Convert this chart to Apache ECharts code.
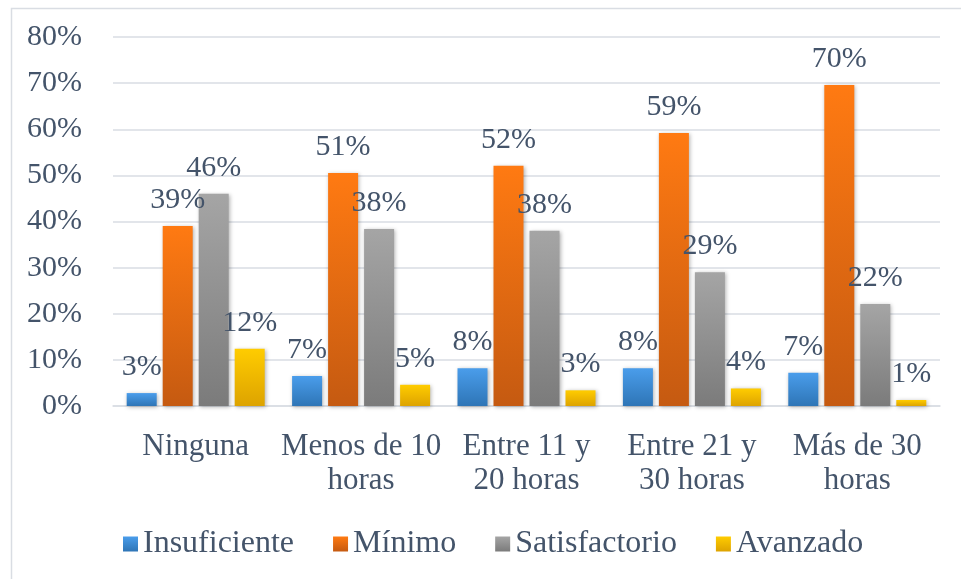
<!DOCTYPE html>
<html>
<head>
<meta charset="utf-8">
<script src="https://cdn.jsdelivr.net/npm/echarts@6/dist/echarts.min.js"></script>
<style>
html,body{margin:0;padding:0;background:#fff;}
#c{width:961px;height:579px;}
</style>
</head>
<body>
<div id="c"></div>
<script>
var categories = ['Ninguna', 'Menos de 10\nhoras', 'Entre 11 y\n20 horas', 'Entre 21 y\n30 horas', 'Más de 30\nhoras'];
var insuficiente = [2.8, 6.5, 8.2, 8.2, 7.2];
var minimo = [39.0, 50.5, 52.1, 59.2, 69.6];
var satisfactorio = [46.0, 38.4, 38.0, 29.0, 22.1];
var avanzado = [12.4, 4.6, 3.4, 3.8, 1.3];
var seriesNames = ['Insuficiente', 'Mínimo', 'Satisfactorio', 'Avanzado'];

var FONT = '"Liberation Serif", "Times New Roman", serif';
var TXT = '#44546A';

function grad(top, bottom) {
  return new echarts.graphic.LinearGradient(0, 0, 0, 1, [
    {offset: 0, color: top}, {offset: 1, color: bottom}
  ]);
}
var fills = [
  grad('#4A9DEB', '#2E75B6'),
  grad('#FF7A12', '#C55A11'),
  grad('#A5A5A5', '#7B7B7B'),
  grad('#FFCC00', '#DDA300')
];
var allData = [insuficiente, minimo, satisfactorio, avanzado];

var chart = echarts.init(document.getElementById('c'));
chart.setOption({
  animation: false,
  textStyle: {fontFamily: FONT},
  graphic: [{
    type: 'rect', left: 9, top: 6, silent: true,
    shape: {x: 0, y: 0, width: 960, height: 580},
    style: {fill: 'none', stroke: '#D9DDE3', lineWidth: 1.5},
    z: -1
  }],
  grid: {left: 113, right: 21, top: 37, bottom: 173},
  legend: {
    left: 123, top: 528, padding: 0,
    itemWidth: 15, itemHeight: 15, itemGap: 39,
    icon: 'rect',
    textStyle: {fontFamily: FONT, fontSize: 32, color: TXT, padding: [0, 0, 0, 0]},
    data: seriesNames
  },
  xAxis: {
    type: 'category',
    data: categories,
    axisLine: {lineStyle: {color: '#D9DDE3', width: 1.5}},
    axisTick: {show: false},
    axisLabel: {fontFamily: FONT, fontSize: 31, color: TXT, margin: 24, lineHeight: 34, interval: 0}
  },
  yAxis: {
    type: 'value', min: 0, max: 80, interval: 10,
    axisLine: {show: false}, axisTick: {show: false},
    splitLine: {lineStyle: {color: '#D9DDE3', width: 1.5}},
    axisLabel: {fontFamily: FONT, fontSize: 30, color: TXT, margin: 31, formatter: '{value}%'}
  },
  series: seriesNames.map(function (n, i) {
    return {
      name: n, type: 'bar', data: allData[i],
      barWidth: 30, barGap: '20%',
      itemStyle: {color: fills[i], shadowBlur: 4, shadowColor: 'rgba(0,0,0,0.3)', shadowOffsetX: 1, shadowOffsetY: 1},
      label: {
        show: true, position: 'top', distance: 11,
        fontFamily: FONT, fontSize: 30, color: TXT,
        formatter: function (p) { return Math.round(p.value) + '%'; }
      }
    };
  })
});
</script>
</body>
</html>
